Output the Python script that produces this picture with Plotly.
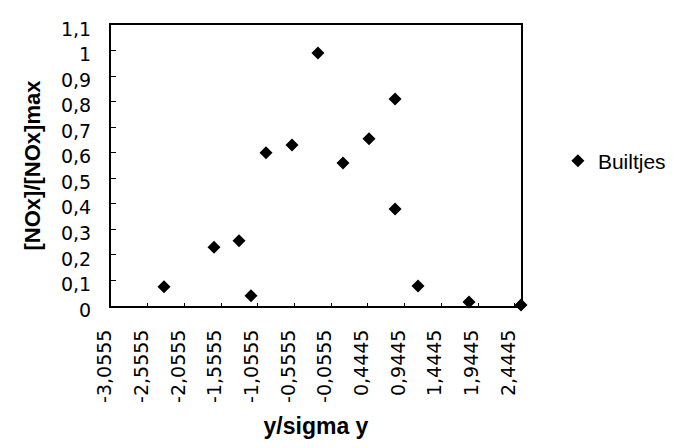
import plotly.graph_objects as go

# data
x_vals = [-2.333, -1.652, -1.312, -1.148, -0.944, -0.590, -0.236, 0.105, 0.459, 0.814, 0.814, 1.127, 1.822, 2.530]
y_vals = [0.075, 0.230, 0.255, 0.040, 0.600, 0.630, 0.990, 0.560, 0.655, 0.810, 0.380, 0.078, 0.016, 0.004]
series_name = "Builtjes"

x_tick_vals = [-3.0555, -2.5555, -2.0555, -1.5555, -1.0555, -0.5555, -0.0555, 0.4445, 0.9445, 1.4445, 1.9445, 2.4445]
x_tick_text = ["-3,0555", "-2,5555", "-2,0555", "-1,5555", "-1,0555", "-0,5555", "-0,0555",
               "0,4445", "0,9445", "1,4445", "1,9445", "2,4445"]
y_tick_vals = [0, 0.1, 0.2, 0.3, 0.4, 0.5, 0.6, 0.7, 0.8, 0.9, 1.0, 1.1]
y_tick_text = ["0", "0,1", "0,2", "0,3", "0,4", "0,5", "0,6", "0,7", "0,8", "0,9", "1", "1,1"]

x_title = "y/sigma y"
y_title = "[NOx]/[NOx]max"

fig = go.Figure()
fig.add_trace(go.Scatter(
    x=x_vals, y=y_vals, mode="markers", name=series_name,
    marker=dict(symbol="diamond", size=10, color="black", line=dict(width=0)),
    cliponaxis=False,
))

tick_font = dict(family="DejaVu Sans", size=19, color="black")

# the page body has an 8px margin, so the figure is drawn 8px smaller / shifted
fig.update_layout(
    width=665, height=440,
    margin=dict(l=103, r=152, t=17, b=142, autoexpand=False),
    paper_bgcolor="white", plot_bgcolor="white",
    showlegend=True,
    legend=dict(x=1.09, y=0.516, xanchor="left", yanchor="middle",
                font=dict(family="Liberation Sans", size=21, color="black"),
                bgcolor="rgba(0,0,0,0)"),
    xaxis=dict(
        range=[-3.0555, 2.53], tickmode="array", tickvals=x_tick_vals, ticktext=x_tick_text,
        tickangle=-90, ticks="inside", ticklen=3, tickcolor="black",
        showline=True, linecolor="black", linewidth=2, mirror=True,
        showgrid=False, zeroline=False, tickfont=tick_font,
        ticklabelstandoff=14, ticklabelshift=-6,
        title=dict(text="<b>" + x_title + "</b>",
                   font=dict(family="Liberation Sans", size=23, color="black"), standoff=16),
    ),
    yaxis=dict(
        range=[0, 1.1], tickmode="array", tickvals=y_tick_vals, ticktext=y_tick_text,
        ticks="inside", ticklen=5, tickcolor="black",
        showline=True, linecolor="black", linewidth=2, mirror=True,
        showgrid=False, zeroline=False, tickfont=tick_font,
        ticklabelstandoff=14, ticklabelshift=4,
        title=dict(text="<b>" + y_title + "</b>",
                   font=dict(family="Liberation Sans", size=22, color="black"), standoff=14),
    ),
)

fig.write_html("out.html")
